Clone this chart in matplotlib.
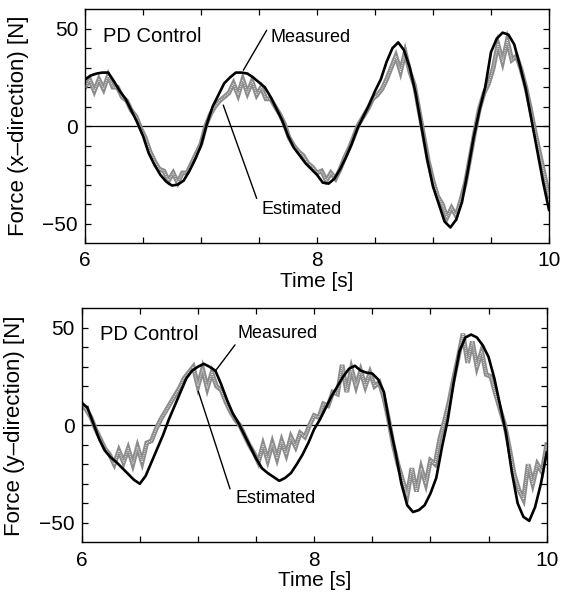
import numpy as np
import matplotlib
matplotlib.use("Agg")
import matplotlib.pyplot as plt

plt.rcParams['font.family'] = ['Liberation Sans', 'DejaVu Sans']

# time grids
t_meas = np.round(np.arange(6.0, 10.001, 0.05), 3)
t_est = np.round(np.arange(6.0, 10.001, 0.04), 3)

# x-direction force, measured (0.05 s steps)
fx_meas = [24, 26, 27, 27.5, 27.5, 23, 18, 14, 8, 2,
           -5, -14, -20, -25, -28.5, -30.5, -30, -28, -23, -17,
           -10, 1, 10, 16, 22, 25, 27.5, 27.5, 27, 25,
           22.5, 20, 15, 9, 3, -5, -11, -15, -19, -22,
           -25, -29, -29.5, -27, -22, -16, -9, -1, 5, 11,
           18, 24, 33, 40, 43, 39, 30, 17, 0, -17,
           -31, -40, -49, -52, -48, -39, -23, -6, 8, 20,
           38, 45, 48, 47, 42, 31, 19, 3, -13, -29,
           -43]

# x-direction force, estimated (0.04 s steps)
fx_est = [20, 24, 18, 24, 19, 26, 20, 20, 15, 13,
          8, 5, -1, -6, -13, -18, -22, -23, -28, -24,
          -29, -24, -24, -19, -14, -9, 0, 6, 10, 13,
          15, 17, 22, 16, 24, 17, 23, 16, 20, 14,
          14, 10, 6, 1, -6, -10, -13, -15, -19, -21,
          -24, -23, -28, -24, -27, -22, -16, -11, -5, 1,
          5, 9, 14, 16, 19, 24, 30, 36, 28, 38,
          28, 21, 8, -5, -18, -28, -36, -40, -47, -42,
          -46, -38, -29, -16, -3, 9, 17, 22, 30, 42,
          33, 44, 34, 36, 29, 20, 9, -3, -14, -25,
          -36]

# y-direction force, measured (0.05 s steps)
fy_meas = [11.5, 9, 1, -7, -13, -16.5, -19, -22, -25, -28,
           -30, -26, -19, -12, -5, 3, 10, 17, 24, 28,
           30, 31.5, 30, 28, 21, 13, 6, 1, -5, -11,
           -17, -22, -24.5, -26.5, -28.5, -27, -24.5, -20, -15, -9,
           -2, 3, 9, 15, 20, 25, 29, 30.5, 28, 27,
           26.5, 23.5, 17, 0, -14, -30, -41, -44.5, -43.5, -41,
           -35, -27, -11, 3, 22, 38, 45, 46.5, 45, 41,
           35, 24, 10, -4, -24, -40, -47, -49, -42, -30,
           -14]

# y-direction force, estimated (0.04 s steps)
fy_est = [11, 8, 4, -2, -7, -12, -15, -20, -13, -19,
          -12, -20, -11, -19, -9, -8, -2, 3, 7, 11,
          15, 19, 24, 27, 30, 20, 29, 19, 27, 20,
          18, 12, 7, 3, 0, -5, -10, -14, -19, -10,
          -18, -9, -17, -8, -15, -6, -11, -4, -6, 0,
          5, 4, 11, 10, 17, 16, 31, 17, 29, 20,
          28, 20, 27, 20, 22, 14, 3, -10, -20, -28,
          -36, -22, -34, -22, -30, -18, -20, -7, 2, 12,
          24, 35, 47, 32, 43, 30, 38, 26, 25, 16,
          8, 0, -12, -25, -33, -38, -20, -30, -20, -24,
          -10]

fig = plt.figure(figsize=(5.61, 5.99), dpi=100)
ax1 = fig.add_axes([0.1515, 0.5943, 0.8271, 0.3902])
ax2 = fig.add_axes([0.1456, 0.0947, 0.8289, 0.3907])

panels = [
    (ax1, fx_meas, fx_est, "Force (x\u2013direction) [N]",
     dict(m_xy=(7.365, 28.7), m_line=(7.566, 49.2), m_txt=(7.595, 45.6),
          e_xy=(7.192, 10.8), e_line=(7.48, -37.1), e_txt=(7.523, -43.0),
          pd=(6.155, 46.2))),
    (ax2, fy_meas, fy_est, "Force (y\u2013direction) [N]",
     dict(m_xy=(7.147, 27.6), m_line=(7.319, 41.2), m_txt=(7.338, 47.3),
          e_xy=(7.003, 17.4), e_line=(7.276, -32.6), e_txt=(7.319, -37.6),
          pd=(6.157, 46.3))),
]

for ax, meas, est, ylab, ann in panels:
    ax.axhline(0, color='black', lw=0.9, zorder=1)
    # estimated: grey hatched-looking band
    ax.plot(t_est, est, color='#8c8c8c', lw=3.4, solid_joinstyle='miter', zorder=2)
    ax.plot(t_est, est, color='white', lw=0.8, ls=(0, (0.6, 1.2)), zorder=3)
    ax.plot(t_meas, meas, color='black', lw=1.9, zorder=4)

    ax.set_xlim(6, 10)
    ax.set_ylim(-60, 60)
    ax.set_xticks(np.arange(6, 10.01, 0.5))
    ax.set_xticklabels(['6', '', '', '', '8', '', '', '', '10'])
    ax.set_yticks(np.arange(-50, 51, 10))
    ax.set_yticklabels(['\u221250', '', '', '', '', '0', '', '', '', '', '50'])
    ax.tick_params(direction='in', length=4, width=0.9, top=True, right=True,
                   labelsize=15, pad=6)
    ax.tick_params(axis='y', pad=5)
    for s in ax.spines.values():
        s.set_linewidth(1.0)
    ax.set_xlabel("Time [s]", fontsize=15, labelpad=1)
    ax.set_ylabel(ylab, fontsize=16, labelpad=10)

    ax.text(*ann['pd'], "PD Control", fontsize=14.5, ha='left', va='center')
    ax.annotate('', xy=ann['m_xy'], xytext=ann['m_line'],
                arrowprops=dict(arrowstyle='-', lw=1.0, color='black',
                                shrinkA=0, shrinkB=0))
    ax.text(*ann['m_txt'], "Measured", fontsize=13, ha='left', va='center')
    ax.annotate('', xy=ann['e_xy'], xytext=ann['e_line'],
                arrowprops=dict(arrowstyle='-', lw=1.0, color='black',
                                shrinkA=0, shrinkB=0))
    ax.text(*ann['e_txt'], "Estimated", fontsize=13, ha='left', va='center')

fig.savefig("out.png", dpi=100)
